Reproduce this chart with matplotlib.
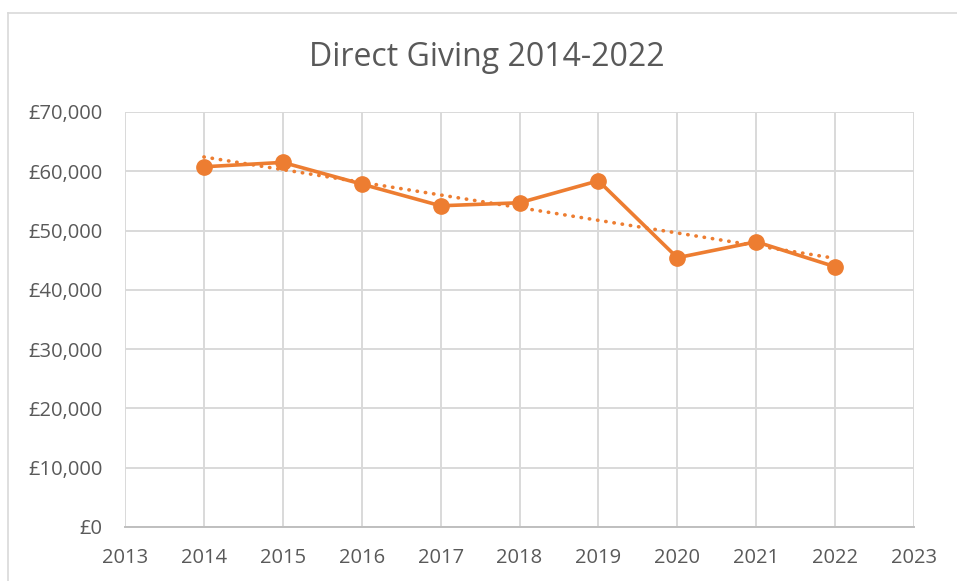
import numpy as np
import matplotlib.pyplot as plt
from matplotlib.lines import Line2D
from matplotlib.ticker import FuncFormatter

# ===== data =====
years = [2014, 2015, 2016, 2017, 2018, 2019, 2020, 2021, 2022]
giving = [60760, 61500, 57840, 54180, 54690, 58400, 45420, 48110, 43900]

orange = "#ED7D31"
text_col = "#595959"
grid_col = "#D9D9D9"

plt.rcParams["font.family"] = ["Open Sans", "DejaVu Sans"]

fig = plt.figure(figsize=(9.57, 5.81), dpi=100)
ax = fig.add_axes([125 / 957, 1 - 527 / 581, (914 - 125) / 957, (527 - 112) / 581])

# linear trendline (least squares, as Excel does)
coef = np.polyfit(years, giving, 1)
trend = np.polyval(coef, years)
ax.plot(years, trend, linestyle=(0, (0.1, 2.2)), dash_capstyle="round",
        color=orange, linewidth=2.6, zorder=2)

ax.plot(years, giving, color=orange, linewidth=2.6, marker="o",
        markersize=11, zorder=3)

ax.set_xlim(2013, 2023)
ax.set_ylim(0, 70000)
ax.set_xticks(range(2013, 2024))
ax.set_yticks(range(0, 70001, 10000))
ax.yaxis.set_major_formatter(FuncFormatter(lambda v, p: f"£{int(v):,}"))

ax.grid(True, color=grid_col, linewidth=1.4, zorder=0)
ax.set_axisbelow(True)
for s in ["top", "right", "left"]:
    ax.spines[s].set_visible(False)
ax.spines["bottom"].set_color("#BFBFBF")
ax.spines["bottom"].set_linewidth(1.4)
ax.tick_params(length=0, labelsize=14.5, labelcolor=text_col)
ax.tick_params(axis="x", pad=15)
ax.tick_params(axis="y", pad=16)

fig.text(487 / 957, 1 - 57 / 581, "Direct Giving 2014-2022", ha="center",
         va="center", fontsize=23, color=text_col)

# chart-area frame (cropped at right and bottom)
fig.add_artist(Line2D([8 / 957, 1], [1 - 13 / 581] * 2, color="#D9D9D9", linewidth=1.2))
fig.add_artist(Line2D([8 / 957] * 2, [0, 1 - 13 / 581], color="#D9D9D9", linewidth=1.2))

fig.savefig("out.png", dpi=100)
